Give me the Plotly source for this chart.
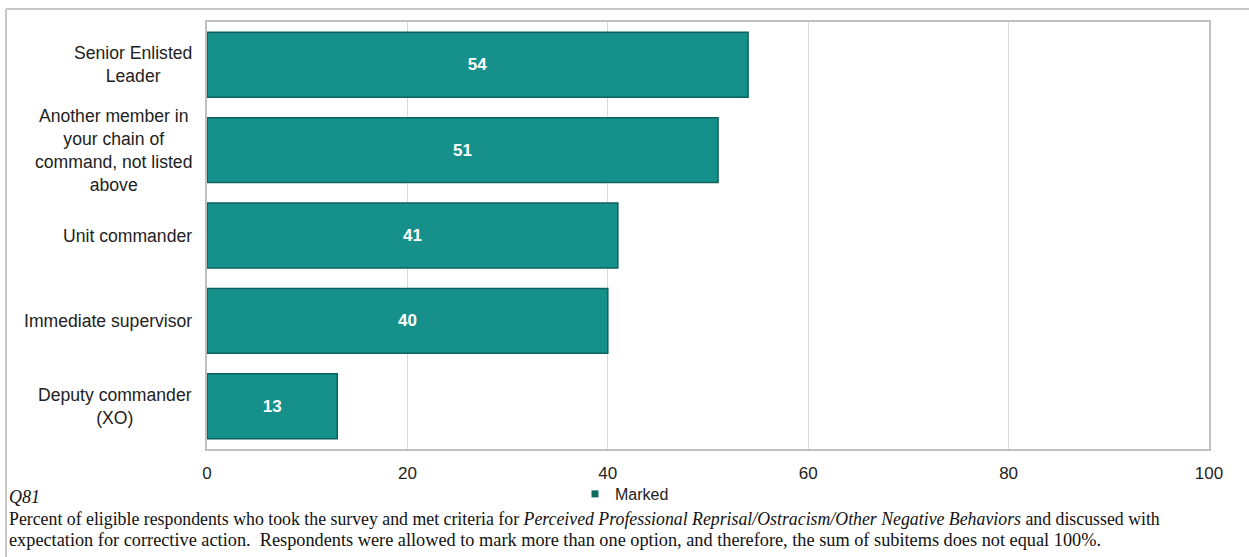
import plotly.graph_objects as go

categories = ["Senior Enlisted<br>Leader",
              "Another member in<br>your chain of<br>command, not listed<br>above",
              "Unit commander",
              "Immediate supervisor",
              "Deputy commander<br>(XO)"]
values = [54, 51, 41, 40, 13]
series_name = "Marked"
x_ticks = [0, 20, 40, 60, 80, 100]
caption_q = "Q81"
caption_l1 = ("Percent of eligible respondents who took the survey and met criteria for "
              "<i>Perceived Professional Reprisal/Ostracism/Other Negative Behaviors</i> and discussed with")
caption_l2 = ("expectation for corrective action.  Respondents were allowed to mark more than one option, "
              "and therefore, the sum of subitems does not equal 100%.")

W, H = 1249, 557
L, R, T, B = 207, 40, 22, 108
pw = W - L - R
ph = H - T - B

def px_x(p):
    return (p - L) / pw

def px_y(p):
    return (H - B - p) / ph

SANS = "Arial, Liberation Sans, sans-serif"
SERIF = "Times New Roman, Liberation Serif, serif"

fig = go.Figure()
fig.add_trace(go.Bar(
    y=categories, x=values, orientation="h", name=series_name,
    marker=dict(color="#16908b", line=dict(color="#0c625e", width=1.5)),
    text=[str(v) for v in values], textposition="inside", insidetextanchor="middle",
    textfont=dict(family=SANS, size=17, color="white", weight="bold"),
    width=0.76, showlegend=False,
))
# legend entry (small square marker like the original)
fig.add_trace(go.Scatter(
    x=[None], y=[None], mode="markers", name=series_name,
    marker=dict(symbol="square", size=7, color="#0d6b5e"), showlegend=True,
))

annotations = []
for c in categories:
    annotations.append(dict(x=px_x(194), xref="paper", y=c, yref="y", text=c,
                            showarrow=False, xanchor="right", align="center",
                            font=dict(family=SANS, size=17.6, color="#222")))
annotations.append(dict(x=px_x(7), xref="paper", y=px_y(497), yref="paper", text="<i>" + caption_q + "</i>",
                        showarrow=False, xanchor="left", yanchor="middle", align="left",
                        font=dict(family=SERIF, size=18, color="#111")))
annotations.append(dict(x=px_x(7), xref="paper", y=px_y(519), yref="paper", text=caption_l1,
                        showarrow=False, xanchor="left", yanchor="middle", align="left",
                        font=dict(family=SERIF, size=17.8, color="#111")))
annotations.append(dict(x=px_x(7), xref="paper", y=px_y(540), yref="paper", text=caption_l2,
                        showarrow=False, xanchor="left", yanchor="middle", align="left",
                        font=dict(family=SERIF, size=18.3, color="#111")))

shapes = [
    dict(type="line", xref="paper", yref="paper", x0=px_x(6), x1=px_x(1260), y0=px_y(9), y1=px_y(9),
         line=dict(color="#c8c8c8", width=2)),
    dict(type="line", xref="paper", yref="paper", x0=px_x(6), x1=px_x(6), y0=px_y(9), y1=px_y(570),
         line=dict(color="#c8c8c8", width=2)),
]

fig.update_layout(
    width=W, height=H,
    margin=dict(l=L, r=R, t=T, b=B, autoexpand=False),
    paper_bgcolor="white", plot_bgcolor="white",
    xaxis=dict(range=[0, 100], tickvals=x_ticks, showgrid=True, gridcolor="#d9d9d9", gridwidth=1,
               zeroline=False, showline=True, linecolor="#bfbfbf", linewidth=1.5, mirror=True,
               ticks="", ticklabelstandoff=8,
               tickfont=dict(family=SANS, size=17, color="#222"), fixedrange=True),
    yaxis=dict(categoryorder="array", categoryarray=categories, autorange="reversed",
               showticklabels=False, showgrid=False, zeroline=False, showline=True,
               linecolor="#bfbfbf", linewidth=1.5, mirror=True, ticks=""),
    legend=dict(orientation="h", x=px_x(575), xanchor="left", y=px_y(494), yanchor="middle",
                font=dict(family=SANS, size=16, color="#222"),
                itemwidth=30, bgcolor="rgba(0,0,0,0)"),
    annotations=annotations,
    shapes=shapes,
)

fig.write_html("out.html", config={"displayModeBar": False},
               post_script="document.body.style.margin='0';document.body.style.overflow='hidden';")
